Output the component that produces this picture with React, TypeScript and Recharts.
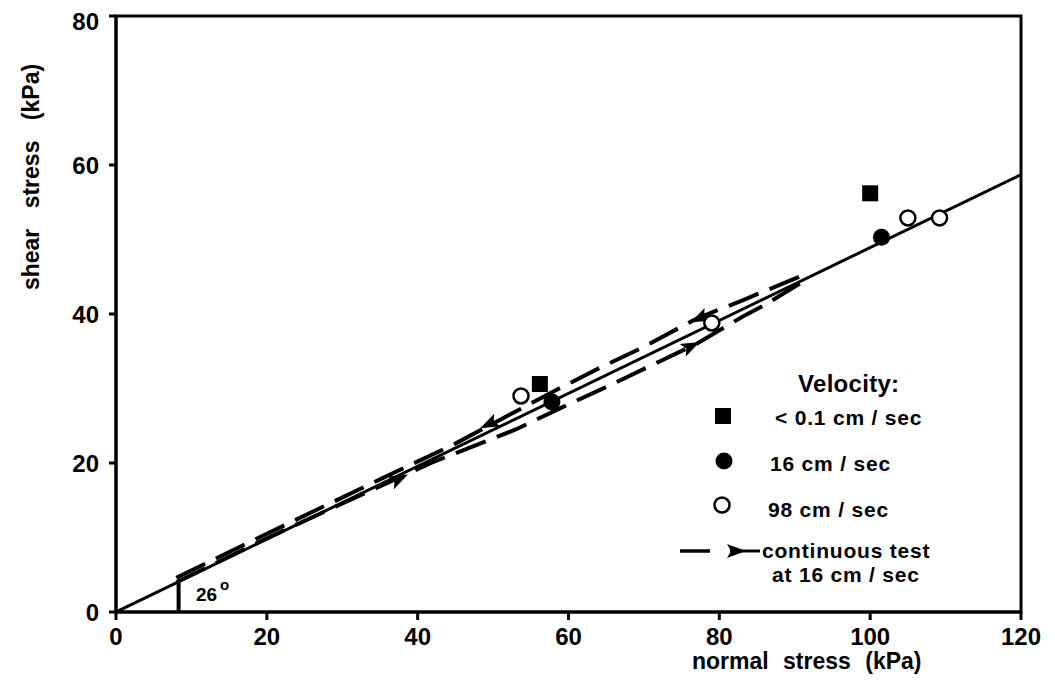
import {
  ComposedChart,
  Line,
  Scatter,
  XAxis,
  YAxis,
  ReferenceArea,
  ReferenceLine,
  ReferenceDot,
} from "recharts";

const FONT = "'Liberation Sans', Arial, Helvetica, sans-serif";

const xTicks = [0, 20, 40, 60, 80, 100, 120];
const yTicks = [0, 20, 40, 60, 80];

// velocity < 0.1 cm/sec
const slowPoints = [
  { x: 56.2, y: 30.6 },
  { x: 100, y: 56.2 },
];
// 16 cm/sec
const mediumPoints = [
  { x: 57.8, y: 28.2 },
  { x: 101.5, y: 50.3 },
];
// 98 cm/sec
const fastPoints = [
  { x: 53.7, y: 29 },
  { x: 79, y: 38.8 },
  { x: 105, y: 52.9 },
  { x: 109.2, y: 52.9 },
];

// failure envelope, 26 degrees
const envelope = [
  { x: 0, y: 0 },
  { x: 120, y: 58.7 },
];

// continuous test at 16 cm/sec: upper branch and lower branch
const upperBranch = [
  { x: 8, y: 4.6 },
  { x: 20, y: 10.5 },
  { x: 35, y: 17.8 },
  { x: 45, y: 22.6 },
  { x: 50, y: 25.3 },
  { x: 58, y: 29.6 },
  { x: 64, y: 32.7 },
  { x: 70, y: 35.6 },
  { x: 77, y: 39.4 },
  { x: 83, y: 41.8 },
  { x: 92, y: 45.6 },
];
const lowerBranch = [
  { x: 8, y: 4.0 },
  { x: 20, y: 9.9 },
  { x: 37, y: 17.8 },
  { x: 42, y: 20.1 },
  { x: 47, y: 22.1 },
  { x: 53, y: 24.5 },
  { x: 59, y: 27.4 },
  { x: 65, y: 30.2 },
  { x: 72, y: 33.6 },
  { x: 77, y: 36.0 },
  { x: 83, y: 39.6 },
  { x: 86, y: 41.2 },
  { x: 92, y: 44.9 },
];
const upperArrows = [
  { x: 49.6, y: 25.3 },
  { x: 77.5, y: 39.5 },
];
const lowerArrows = [
  { x: 37.4, y: 17.8 },
  { x: 76.1, y: 35.6 },
];

const angleMark = [
  { x: 8.3, y: 0 },
  { x: 8.3, y: 4.0 },
];

const ARROW = "M11,0 L-8,-7 L-4,0 L-8,7 Z";

const arrowShape = (angle: number) => (props: any) => (
  <path
    d={ARROW}
    fill="#000"
    transform={`translate(${props.cx},${props.cy}) rotate(${angle})`}
  />
);

const squareShape = (props: any) => (
  <rect x={props.cx - 8} y={props.cy - 8} width={16} height={16} fill="#000" />
);
const dotShape = (props: any) => <circle cx={props.cx} cy={props.cy} r={8.5} fill="#000" />;
const ringShape = (props: any) => (
  <circle cx={props.cx} cy={props.cy} r={7.5} fill="#fff" stroke="#000" strokeWidth={2.5} />
);

const tickStyle = { fill: "#000", fontSize: 24, fontFamily: FONT, fontWeight: 700 };

function Legend() {
  const t = { fontFamily: FONT, fontSize: 21, fill: "#000", fontWeight: 700, letterSpacing: 0.8 };
  return (
    <svg
      width={1039}
      height={682}
      style={{ position: "absolute", left: 0, top: 0, pointerEvents: "none" }}
    >
      <text x={790} y={384} {...t} fontSize={24} letterSpacing={0.3}>
        Velocity:
      </text>
      <rect x={707} y={400} width={16} height={16} fill="#000" />
      <text x={767} y={417} {...t}>
        {"<  0.1 cm / sec"}
      </text>
      <circle cx={716} cy={453} r={8.5} fill="#000" />
      <text x={762} y={463} {...t}>
        16 cm / sec
      </text>
      <circle cx={714} cy={497} r={7.5} fill="#fff" stroke="#000" strokeWidth={2.5} />
      <text x={760} y={509} {...t}>
        98 cm / sec
      </text>
      <line x1={672} y1={543} x2={702} y2={543} stroke="#000" strokeWidth={3.5} />
      <line x1={722} y1={543} x2={752} y2={543} stroke="#000" strokeWidth={3} />
      <path d={ARROW} fill="#000" transform="translate(727,543)" />
      <text x={754} y={550} {...t}>
        continuous test
      </text>
      <text x={764} y={574} {...t}>
        at 16 cm / sec
      </text>
    </svg>
  );
}

export default function App() {
  return (
    <div style={{ position: "relative", width: 1039, height: 682, fontFamily: FONT }}>
      <ComposedChart
        width={1039}
        height={682}
        margin={{ top: 8, right: 26, bottom: 0, left: 0 }}
      >
        <XAxis
          type="number"
          dataKey="x"
          domain={[0, 120]}
          ticks={xTicks}
          allowDataOverflow
          height={78}
          tickSize={8}
          tickMargin={8}
          tick={tickStyle}
          axisLine={{ stroke: "#000", strokeWidth: 3 }}
          tickLine={{ stroke: "#000", strokeWidth: 3 }}
          label={{
            content: ({ viewBox }: any) => (
              <text
                x={viewBox.x + 576}
                y={viewBox.y + 57}
                fontFamily={FONT}
                fontSize={23}
                fontWeight={700}
                fill="#000"
                wordSpacing={8}
              >
                normal stress (kPa)
              </text>
            ),
          }}
        />
        <YAxis
          type="number"
          dataKey="y"
          domain={[0, 80]}
          ticks={yTicks}
          allowDataOverflow
          width={108}
          tickSize={7}
          tickMargin={10}
          tick={tickStyle}
          axisLine={{ stroke: "#000", strokeWidth: 3 }}
          tickLine={{ stroke: "#000", strokeWidth: 3 }}
          label={{
            content: ({ viewBox }: any) => {
              const cx = viewBox.x + 31;
              const cy = viewBox.y + 161;
              return (
                <text
                  x={cx}
                  y={cy}
                  transform={`rotate(-90, ${cx}, ${cy})`}
                  textAnchor="middle"
                  fontFamily={FONT}
                  fontSize={23}
                  fontWeight={700}
                  fill="#000"
                  wordSpacing={14}
                >
                  shear stress (kPa)
                </text>
              );
            },
          }}
        />
        <ReferenceArea
          x1={0}
          x2={120}
          y1={0}
          y2={80}
          fill="none"
          stroke="#000"
          strokeWidth={3}
        />
        <Line
          data={envelope}
          dataKey="y"
          type="linear"
          stroke="#000"
          strokeWidth={3}
          dot={false}
          isAnimationActive={false}
        />
        <Line
          data={upperBranch}
          dataKey="y"
          type="linear"
          stroke="#000"
          strokeWidth={4}
          strokeDasharray="32 12"
          dot={false}
          isAnimationActive={false}
        />
        <Line
          data={lowerBranch}
          dataKey="y"
          type="linear"
          stroke="#000"
          strokeWidth={4}
          strokeDasharray="32 12"
          dot={false}
          isAnimationActive={false}
        />
        <ReferenceLine segment={angleMark} stroke="#000" strokeWidth={4} />
        <ReferenceDot
          x={10.6}
          y={2.6}
          r={0}
          fill="none"
          stroke="none"
          label={{
            content: ({ viewBox }: any) => (
              <text x={viewBox.x} y={viewBox.y + 8} fontFamily={FONT} fontSize={19} fontWeight={700} fill="#000">
                26
                <tspan dx={3} dy={-11} fontSize={15}>
                  o
                </tspan>
              </text>
            ),
          }}
        />
        <Scatter data={upperArrows} shape={arrowShape(154)} isAnimationActive={false} />
        <Scatter data={lowerArrows} shape={arrowShape(-26)} isAnimationActive={false} />
        <Scatter data={slowPoints} shape={squareShape} isAnimationActive={false} />
        <Scatter data={mediumPoints} shape={dotShape} isAnimationActive={false} />
        <Scatter data={fastPoints} shape={ringShape} isAnimationActive={false} />
      </ComposedChart>
      <Legend />
    </div>
  );
}
